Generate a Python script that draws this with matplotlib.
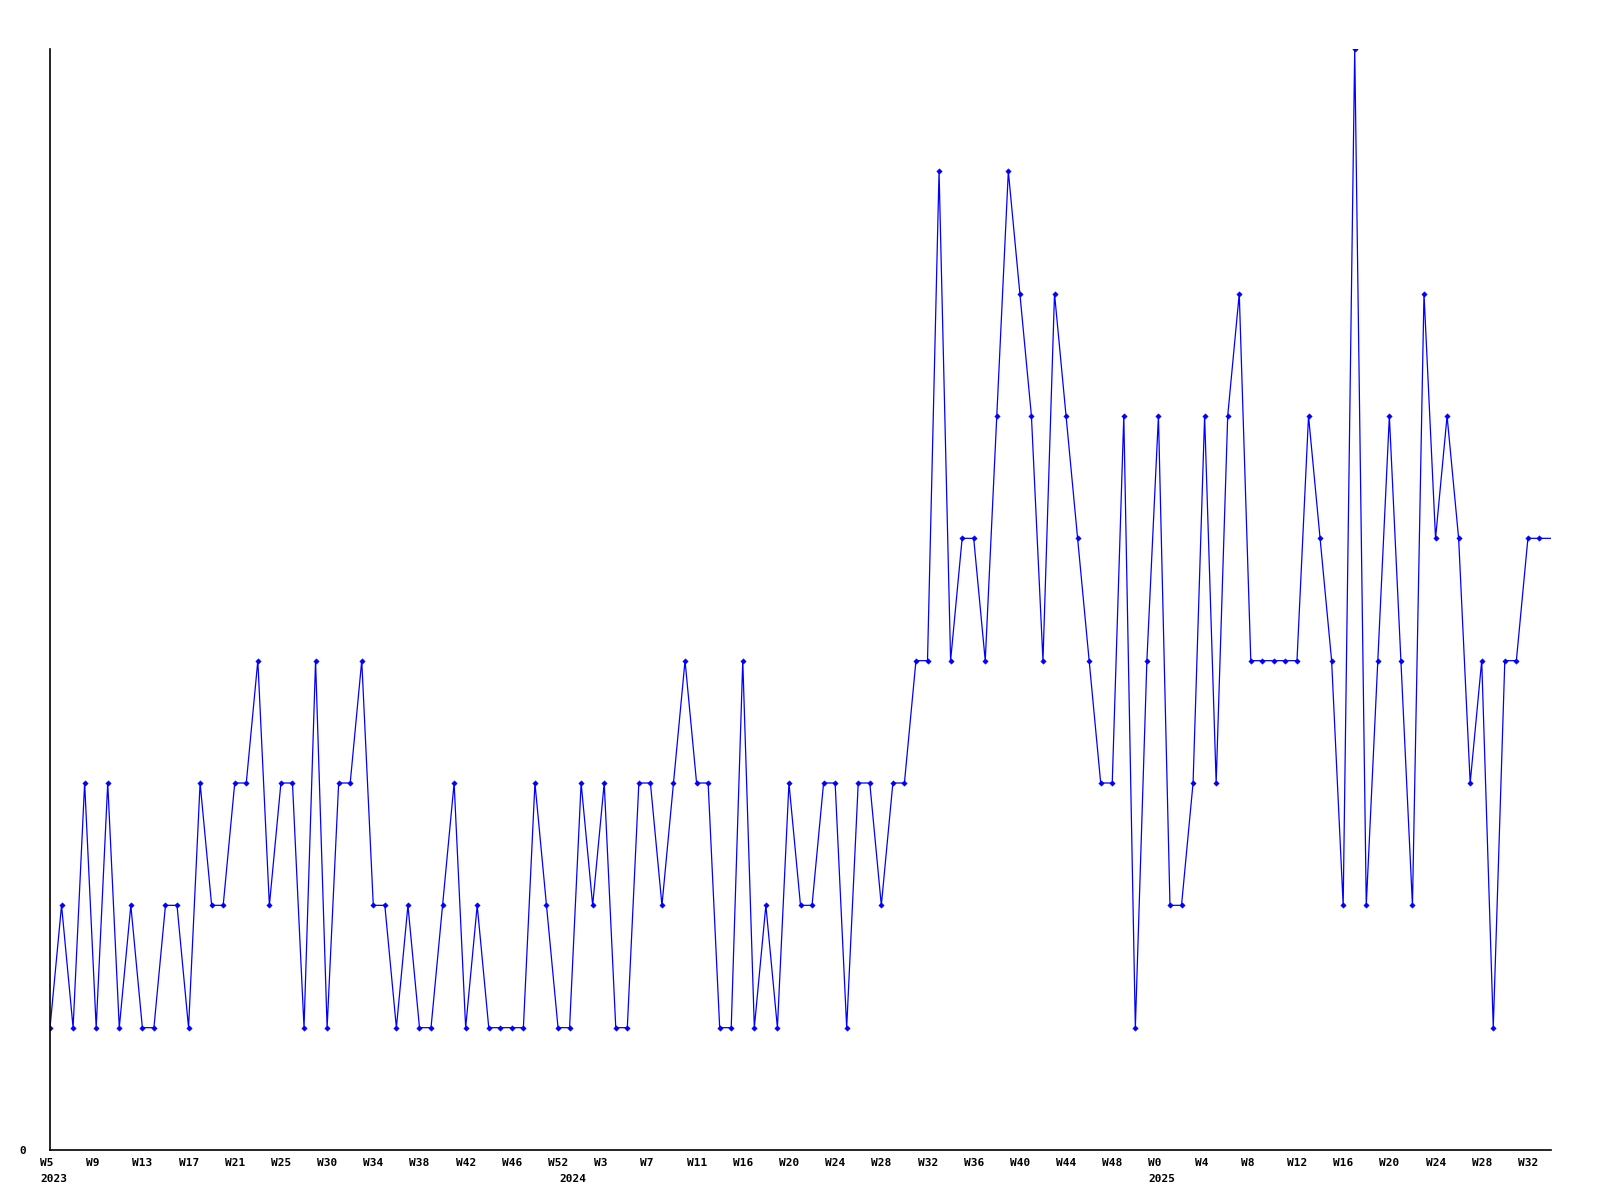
import matplotlib
matplotlib.use("Agg")
import matplotlib.pyplot as plt
import matplotlib.transforms as mtransforms

# weekly counts, 2023 W5 -> 2025 W33
values = [1, 2, 1, 3, 1, 3, 1, 2, 1, 1, 2, 2, 1, 3, 2, 2, 3, 3, 4, 2,
          3, 3, 1, 4, 1, 3, 3, 4, 2, 2, 1, 2, 1, 1, 2, 3, 1, 2, 1, 1,
          1, 1, 3, 2, 1, 1, 3, 2, 3, 1, 1, 3, 3, 2, 3, 4, 3, 3, 1, 1,
          4, 1, 2, 1, 3, 2, 2, 3, 3, 1, 3, 3, 2, 3, 3, 4, 4, 8, 4, 5,
          5, 4, 6, 8, 7, 6, 4, 7, 6, 5, 4, 3, 3, 6, 1, 4, 6, 2, 2, 3,
          6, 3, 6, 7, 4, 4, 4, 4, 4, 6, 5, 4, 2, 9, 2, 4, 6, 4, 2, 7,
          5, 6, 5, 3, 4, 1, 4, 4, 5, 5, 5]

week_labels = ["W5", "W9", "W13", "W17", "W21", "W25", "W30", "W34", "W38",
               "W42", "W46", "W52", "W3", "W7", "W11", "W16", "W20", "W24",
               "W28", "W32", "W36", "W40", "W44", "W48", "W0", "W4", "W8",
               "W12", "W16", "W20", "W24", "W28", "W32"]
label_step = 4

years = ["2023", "2024", "2025"]
year_start = [0, 45, 96]

fig = plt.figure(figsize=(16, 12), dpi=100)
ax = fig.add_axes([50 / 1600, 1 - 1150 / 1200, 1501 / 1600, 1101 / 1200])

x = list(range(len(values)))
ax.plot(x, values, color="#0000ff", linewidth=0.9)
ax.plot(x[:-1], values[:-1], linestyle="none", marker="D", markersize=2.8,
        color="#0000ff", markeredgewidth=0.3)

ax.set_xlim(0, len(values) - 1)
ax.set_ylim(0, 9)

for s in ["top", "right"]:
    ax.spines[s].set_visible(False)
for s in ["left", "bottom"]:
    ax.spines[s].set_linewidth(1.2)
    ax.spines[s].set_color("black")

font = dict(family="DejaVu Sans Mono", fontweight="bold", fontsize=8, color="black")

ax.set_xticks([])
ax.set_yticks([0])
ax.set_yticklabels(["0"], **font)
ax.tick_params(axis="y", length=0, pad=17)

# week labels, left aligned a little before their point
wk_tr = mtransforms.offset_copy(ax.get_xaxis_transform(), fig=fig, x=-7.2, y=-6, units="points")
for i, lab in enumerate(week_labels):
    ax.text(i * label_step, 0, lab, transform=wk_tr, ha="left", va="top", **font)

yr_tr = mtransforms.offset_copy(ax.get_xaxis_transform(), fig=fig, x=-7.2, y=-17, units="points")
for pos, yr in zip(year_start, years):
    ax.text(pos, 0, yr, transform=yr_tr, ha="left", va="top", **font)

fig.savefig("out.png", dpi=100)
